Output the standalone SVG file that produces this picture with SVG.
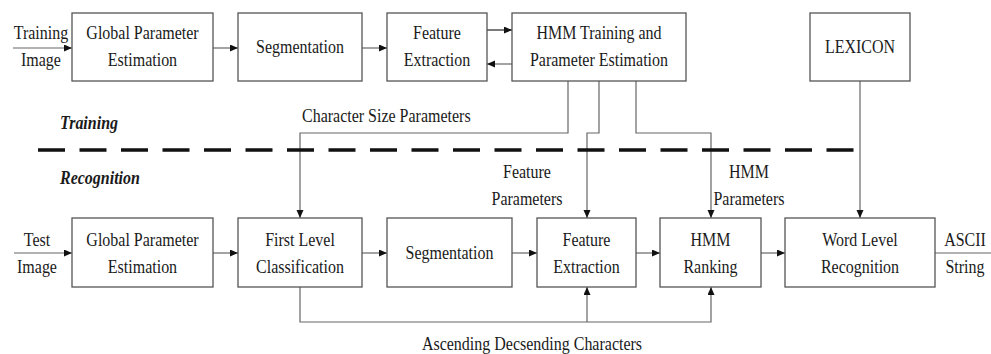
<svg xmlns="http://www.w3.org/2000/svg" width="991" height="354" viewBox="0 0 991 354">
<style>
.box{fill:#fff;stroke:#555;stroke-width:1.3}
.t{font-family:"Liberation Serif","Times New Roman",serif;font-size:16px;fill:#1a1a1a;text-anchor:middle;transform-box:fill-box;transform-origin:center;transform:scaleY(1.12)}
.l{text-anchor:start}
.bi{font-weight:bold;font-style:italic}
.c{fill:none;stroke:#666;stroke-width:1.2}
.a{marker-end:url(#ah)}
</style>
<defs>
<marker id="ah" markerUnits="userSpaceOnUse" markerWidth="9" markerHeight="8" refX="8" refY="3.5" orient="auto">
<path d="M0,0 L8,3.5 L0,7 z" fill="#111"/>
</marker>
</defs>
<rect width="991" height="354" fill="#fff"/>
<g id="connectors">
<path class="c a" d="M13,48 H72"/>
<path class="c a" d="M213,48 H238"/>
<path class="c a" d="M362,48 H387"/>
<path class="c a" d="M487,30 H512" style="stroke:#222"/>
<path class="c a" d="M512,64 H487"/>
<path class="c a" d="M568,81 V133 H300 V218"/>
<path class="c a" d="M599,81 V133 H587 V218"/>
<path class="c a" d="M636,81 V133 H711 V218"/>
<path class="c a" d="M860,81 V218"/>
<path class="c a" d="M14,253 H72"/>
<path class="c a" d="M213,253 H238"/>
<path class="c a" d="M362,253 H387"/>
<path class="c a" d="M512,253 H537"/>
<path class="c a" d="M636,253 H660"/>
<path class="c a" d="M761,253 H785"/>
<path class="c" d="M935,253 H991"/>
<path class="c a" d="M300,287 V322 H711 V287"/>
<path class="c a" d="M587,322 V287"/>
<path d="M38,150 H855" fill="none" stroke="#111" stroke-width="3.5" stroke-dasharray="27 14.5"/>
</g>
<g id="labels">
<text class="t" x="41" y="40">Training<tspan x="41" dy="24">Image</tspan></text>
<text class="t" x="37" y="247">Test<tspan x="37" dy="24">Image</tspan></text>
<text class="t" x="965" y="247">ASCII<tspan x="965" dy="24">String</tspan></text>
<text class="t l bi" x="60" y="128">Training</text>
<text class="t l bi" x="60" y="183">Recognition</text>
<text class="t l" x="302" y="121">Character Size Parameters</text>
<text class="t" x="527" y="179">Feature<tspan x="527" dy="24">Parameters</tspan></text>
<text class="t" x="749" y="179">HMM<tspan x="749" dy="24">Parameters</tspan></text>
<text class="t" x="532" y="349">Ascending Decsending Characters</text>
</g>
<g id="train-gpe"><rect class="box" x="72" y="13" width="141" height="68"/><text class="t" x="142.5" y="40">Global Parameter<tspan x="142.5" dy="24">Estimation</tspan></text></g>
<g id="train-seg"><rect class="box" x="238" y="13" width="124" height="68"/><text class="t" x="300" y="52.5">Segmentation</text></g>
<g id="train-fe"><rect class="box" x="387" y="13" width="100" height="68"/><text class="t" x="437" y="40">Feature<tspan x="437" dy="24">Extraction</tspan></text></g>
<g id="train-hmm"><rect class="box" x="512" y="13" width="174" height="68"/><text class="t" x="599" y="40">HMM Training and<tspan x="599" dy="24">Parameter Estimation</tspan></text></g>
<g id="lexicon"><rect class="box" x="810" y="13" width="100" height="68"/><text class="t" x="860" y="52.5">LEXICON</text></g>
<g id="rec-gpe"><rect class="box" x="72" y="218" width="141" height="69"/><text class="t" x="142.5" y="247">Global Parameter<tspan x="142.5" dy="24">Estimation</tspan></text></g>
<g id="rec-flc"><rect class="box" x="238" y="218" width="124" height="69"/><text class="t" x="300" y="247">First Level<tspan x="300" dy="24">Classification</tspan></text></g>
<g id="rec-seg"><rect class="box" x="387" y="218" width="125" height="69"/><text class="t" x="449.5" y="258">Segmentation</text></g>
<g id="rec-fe"><rect class="box" x="537" y="218" width="99" height="69"/><text class="t" x="586.5" y="247">Feature<tspan x="586.5" dy="24">Extraction</tspan></text></g>
<g id="rec-hmm"><rect class="box" x="660" y="218" width="101" height="69"/><text class="t" x="710.5" y="247">HMM<tspan x="710.5" dy="24">Ranking</tspan></text></g>
<g id="rec-wlr"><rect class="box" x="785" y="218" width="150" height="69"/><text class="t" x="860" y="247">Word Level<tspan x="860" dy="24">Recognition</tspan></text></g>
</svg>
